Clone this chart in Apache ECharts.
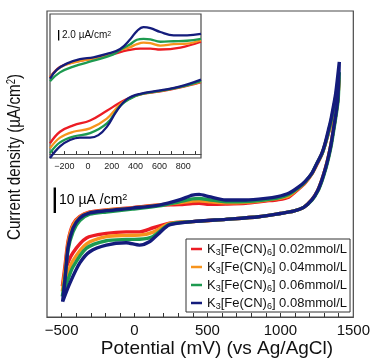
<!DOCTYPE html>
<html><head><meta charset="utf-8">
<script src="https://cdn.jsdelivr.net/npm/echarts@6/dist/echarts.min.js"></script>
<style>html,body{margin:0;padding:0;background:#fff}#c{width:373px;height:362px}</style>
</head><body><div id="c"></div>
<script>
// ---- DATA (potential in mV vs Ag/AgCl, current density in µA/cm², arbitrary zero) ----
const seriesNames = ['K₃[Fe(CN)₆] 0.02mmol/L','K₃[Fe(CN)₆] 0.04mmol/L','K₃[Fe(CN)₆] 0.06mmol/L','K₃[Fe(CN)₆] 0.08mmol/L'];
const colors = ['#ec1c24','#f7941d','#1d9a50','#141c7c'];
const mainTicks = [-500,0,500,1000,1500];
const insetTicks = [-200,0,200,400,600,800];

// main CV loops: forward (lower) branch then reverse (upper) branch
const mainRed = [[-495,12],[-470,19],[-423,25.1],[-329,31.0],[-193,32.8],[-57,33.4],[34,33.4],[123,34.9],[239,36.8],
  [397,37.4],[625,38.3],[852,39.3],[1000,40.6],[1090,41.5],[1160,43.0],[1215,45.9],[1255,49.5],[1284,53.7],[1310,58.5],[1329,62.8],[1348,68],[1363,73.3],[1380,79.5],[1393,85.1],[1402,93],
  [1380,86],[1363,80.5],[1345,75.5],[1329,72.0],[1306,67.5],[1284,63.8],[1250,59.8],[1215,56.0],[1170,52.6],[1125,50.2],[1057,47.0],[980,46.0],[898,45.5],[762,44.6],[625,44.3],[511,44.2],[443,44.6],[397,44.5],[307,44.1],[170,43.9],
  [-14,42.9],[-193,42.0],[-307,41.2],[-375,39.5],[-421,36.5],[-455,30],[-477,20],[-495,12]];
const mainOrange = [[-495,10],[-465,16],[-423,22],[-329,28.7],[-193,31.5],[-57,32.0],[34,32.1],[123,33.2],[239,36.6],
  [397,37.4],[625,38.3],[852,39.3],[1000,40.6],[1090,41.5],[1160,43.0],[1215,45.9],[1255,49.5],[1284,53.7],[1310,58.5],[1329,62.8],[1348,68],[1363,73.3],[1380,79.5],[1393,85.1],[1402,94],
  [1380,86.5],[1363,81.0],[1345,76],[1329,72.5],[1306,67.7],[1284,64.0],[1250,60.0],[1215,56.1],[1170,52.8],[1125,50.5],[1057,47.5],[980,46.4],[898,45.8],[762,45.0],[625,44.8],[511,45.2],[443,45.6],[397,45.5],[307,44.8],[170,43.9],
  [-14,42.8],[-193,41.9],[-307,41.0],[-375,39.2],[-421,36],[-455,29],[-477,18],[-495,10]];
const mainGreen = [[-495,8],[-460,14],[-423,19.5],[-329,27],[-193,29.9],[-57,30.4],[34,30.5],[123,31.5],[239,36.3],
  [397,37.4],[625,38.3],[852,39.3],[1000,40.6],[1090,41.5],[1160,43.0],[1218,45.9],[1258,49.5],[1287,53.7],[1313,58.5],[1332,62.8],[1351,68],[1366,73.3],[1383,79.5],[1396,85.1],[1404,96],
  [1383,87.5],[1366,82.0],[1348,77],[1332,73.0],[1308,68],[1286,64.1],[1250,60.2],[1215,56.2],[1170,53.0],[1125,50.7],[1057,48.0],[980,46.6],[898,46.0],[762,45.3],[625,45.2],[511,46.0],[443,46.5],[397,46.3],[307,45.2],[170,43.6],
  [-14,42.3],[-193,41.2],[-307,40.3],[-375,37.8],[-421,33.5],[-455,26.5],[-477,15],[-495,8]];
const mainBlue = [[-493,6],[-443,13.3],[-375,21.2],[-307,25.6],[-193,28.2],[-57,29.1],[34,28.2],[102,29.5],[170,32.9],[239,36.1],
  [397,37.4],[625,38.3],[852,39.3],[1000,40.6],[1090,41.5],[1160,43.0],[1215,45.9],[1255,49.5],[1284,53.7],[1310,58.5],[1329,62.8],[1348,68],[1363,73.3],[1380,79.5],[1393,85.1],[1404,100],
  [1380,88],[1363,82.4],[1345,77],[1329,73.3],[1306,68],[1284,64.2],[1250,60.2],[1215,56.3],[1170,53.2],[1125,51.0],[1057,48.5],[980,47.2],[898,46.5],[762,45.9],[625,45.9],[511,47.2],[443,48.1],[397,47.8],[307,45.9],[170,43.9],
  [-14,42.7],[-193,41.7],[-307,40.8],[-375,38.8],[-421,34.9],[-455,27.6],[-477,14.5],[-493,6]];

// inset (zoomed view), upper = reverse branch, lower = forward branch
const insetRedUp = [[-320,15.8],[-236,17.9],[-124,18.9],[45,19.7],[214,20.6],[327,21.3],[439,21.7],[524,21.7],[608,21.5],[777,21.9],[950,23.1]];
const insetOrangeUp = [[-320,15.7],[-236,17.8],[-124,18.8],[45,19.7],[214,20.8],[270,21.4],[355,22.0],[411,22.6],[467,22.9],[524,22.8],[608,22.3],[720,22.6],[833,22.7],[950,23.4]];
const insetGreenUp = [[-320,15.0],[-236,16.8],[-124,18.0],[45,19.2],[214,20.5],[270,21.4],[355,22.6],[411,23.5],[467,23.7],[524,23.6],[608,23.1],[720,23.2],[833,23.3],[950,23.7]];
const insetBlueUp = [[-320,15.5],[-264,17.3],[-180,18.6],[-68,19.5],[45,19.9],[158,20.6],[270,21.6],[355,23.6],[411,25.3],[467,26.1],[524,25.9],[608,25.1],[720,24.4],[833,24.4],[950,24.7]];
const insetRedLow = [[-320,2.2],[-236,4.6],[-124,5.9],[17,6.9],[158,8.9],[270,10.6],[355,11.6],[439,12.3],[608,12.9],[777,13.7],[950,14.8]];
const insetOrangeLow = [[-320,1.2],[-236,3.4],[-124,4.6],[17,5.3],[158,7.3],[270,10.2],[355,11.5],[439,12.3],[608,13.0],[777,13.8],[950,14.9]];
const insetGreenLow = [[-320,0.2],[-236,2.4],[-124,3.6],[17,4.3],[158,6.3],[270,9.9],[355,11.4],[439,12.3],[608,13.0],[777,13.8],[950,15.0]];
const insetBlueLow = [[-320,-0.8],[-236,1.6],[-152,2.9],[-68,3.4],[17,3.4],[87,3.9],[158,5.6],[242,8.9],[327,11.3],[439,12.4],[608,13.1],[777,13.9],[950,15.3]];

// ---- CHART ----
const FONT = 'Arial, "Liberation Sans", Helvetica, sans-serif';
const mainData = [mainRed, mainOrange, mainGreen, mainBlue];
const insetUp = [insetRedUp, insetOrangeUp, insetGreenUp, insetBlueUp];
const insetLow = [insetRedLow, insetOrangeLow, insetGreenLow, insetBlueLow];
const range = (a,b,s)=>{const r=[];for(let v=a;v<=b;v+=s)r.push(v);return r;};

const series = [];
mainData.forEach((d,i)=>series.push({name:seriesNames[i],type:'line',xAxisIndex:0,yAxisIndex:0,data:d,
  showSymbol:false,smooth:0.25,lineStyle:{width:3.4,color:colors[i]},itemStyle:{color:colors[i]},z:2+i}));
insetUp.forEach((d,i)=>series.push({name:seriesNames[i],type:'line',xAxisIndex:1,yAxisIndex:1,data:d,
  showSymbol:false,smooth:0.4,lineStyle:{width:2.3,color:colors[i]},itemStyle:{color:colors[i]},z:10+i}));
insetLow.forEach((d,i)=>series.push({name:seriesNames[i],type:'line',xAxisIndex:1,yAxisIndex:1,data:d,
  showSymbol:false,smooth:0.4,lineStyle:{width:2.3,color:colors[i]},itemStyle:{color:colors[i]},z:10+i}));

const chart = echarts.init(document.getElementById('c'), null, {renderer:'canvas'});
chart.setOption({
  animation:false,
  backgroundColor:'#fff',
  textStyle:{fontFamily:FONT},
  grid:[
    {left:47,top:11,width:308,height:306,show:true,borderColor:'#4a4a4a',borderWidth:1.2,backgroundColor:'#fff',z:0},
    {left:50,top:14,width:151,height:144,show:true,borderColor:'#4a4a4a',borderWidth:1.2,backgroundColor:'#fff',z:5}
  ],
  xAxis:[
    {type:'value',gridIndex:0,min:-600,max:1500,splitLine:{show:false},
     axisLine:{show:true,lineStyle:{color:'#4a4a4a',width:1.2}},
     axisTick:{show:true,inside:true,length:4,customValues:range(-500,1400,100),lineStyle:{color:'#333'}},
     axisLabel:{customValues:mainTicks,fontSize:15,color:'#111',margin:6,fontFamily:FONT,formatter:v=>v<0?'\u2212'+(-v):String(v)}},
    {type:'value',gridIndex:1,min:-320,max:950,splitLine:{show:false},z:6,
     axisLine:{show:true,lineStyle:{color:'#4a4a4a',width:1.2}},
     axisTick:{show:true,inside:true,length:3,customValues:range(-300,900,100),lineStyle:{color:'#333'}},
     axisLabel:{customValues:insetTicks,fontSize:9,color:'#222',margin:4,fontFamily:FONT,formatter:v=>v<0?'\u2212'+(-v):String(v)}}
  ],
  yAxis:[
    {type:'value',gridIndex:0,min:0,max:120,show:false,splitLine:{show:false}},
    {type:'value',gridIndex:1,min:-0.8,max:28.8,show:false,splitLine:{show:false}}
  ],
  legend:{
    data:seriesNames,orient:'vertical',left:186,top:239,icon:'rect',itemWidth:11,itemHeight:2.5,itemGap:2,
    borderColor:'#333',borderWidth:1,backgroundColor:'#fff',padding:[2,3,1,5],
    formatter:n=>n.replace('₃','{sub|3}').replace('₆','{sub|6}'),
    textStyle:{fontSize:13,color:'#111',lineHeight:16,fontFamily:FONT,
      rich:{sub:{fontSize:9,lineHeight:10,verticalAlign:'bottom',color:'#111',fontFamily:FONT}}}
  },
  graphic:[
    {type:'rect',z:100,shape:{x:53.6,y:187.5,width:2.4,height:25.5},style:{fill:'#000'}},
    {type:'text',z:100,x:59,y:200,style:{text:'10 µA /cm{sup|2}',fontSize:14,fontFamily:FONT,fill:'#000',verticalAlign:'middle',
      rich:{sup:{fontSize:9,lineHeight:9,verticalAlign:'top',fill:'#000',fontFamily:FONT}}}},
    {type:'rect',z:100,shape:{x:58,y:30,width:1.3,height:10.5},style:{fill:'#000'}},
    {type:'text',z:100,x:62,y:35.5,style:{text:'2.0 µA/cm{sup|2}',fontSize:10,fontFamily:FONT,fill:'#111',verticalAlign:'middle',
      rich:{sup:{fontSize:7,lineHeight:7,verticalAlign:'top',fill:'#111',fontFamily:FONT}}}},
    {type:'text',z:100,x:15,y:157,rotation:Math.PI/2,scaleX:0.8,style:{text:'Current density (µA/cm{sup|2})',fontSize:19,fontFamily:FONT,fill:'#111',
      align:'center',verticalAlign:'middle',rich:{sup:{fontSize:12,lineHeight:12,verticalAlign:'top',fill:'#111',fontFamily:FONT}}}},
    {type:'text',z:100,x:217,y:349,style:{text:'Potential (mV) (vs Ag/AgCl)',fontSize:19,fontFamily:FONT,fill:'#111',align:'center',verticalAlign:'middle'}}
  ],
  series:series
});
</script></body></html>
